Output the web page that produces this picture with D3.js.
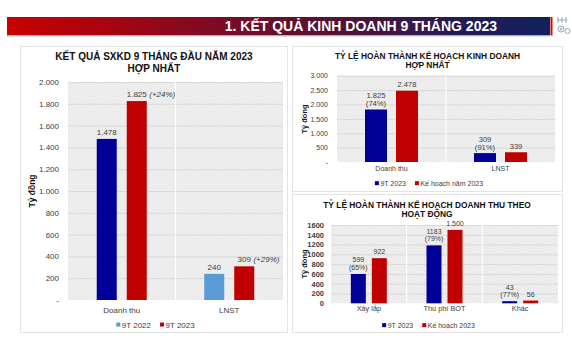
<!DOCTYPE html>
<html>
<head>
<meta charset="utf-8">
<script src="https://cdn.jsdelivr.net/npm/d3@7"></script>
<style>
  html, body { margin: 0; padding: 0; background: #fff; }
  svg { display: block; font-family: "Liberation Sans", Arial, sans-serif; }
</style>
</head>
<body>
<svg id="chart" width="572" height="339"></svg>
<script>
// ---- Data ----
const headerTitle = "1. KẾT QUẢ KINH DOANH 9 THÁNG 2023";

// Consolidated results, first 9 months
const sxkdTitle = ["KẾT QUẢ SXKD 9 THÁNG ĐẦU NĂM 2023", "HỢP NHẤT"];
const sxkdCategories = ["Doanh thu", "LNST"];
const sxkdSeries = ["9T 2022", "9T 2023"];
const sxkd2022 = [1478, 240];
const sxkd2023 = [1825, 309];
const sxkdGrowth = ["(+24%)", "(+29%)"];
const sxkdTicks = [0, 200, 400, 600, 800, 1000, 1200, 1400, 1600, 1800, 2000];

// Plan completion, consolidated
const planTitle = ["TỶ LỆ HOÀN THÀNH KẾ HOẠCH KINH DOANH", "HỢP NHẤT"];
const planCategories = ["Doanh thu", "LNST"];
const planSeries = ["9T 2023", "Kế hoạch năm 2023"];
const plan9T = [1825, 309];
const planYear = [2478, 339];
const planShare = ["(74%)", "(91%)"];
const planTicks = [0, 500, 1000, 1500, 2000, 2500, 3000];

// Revenue plan completion by activity
const segTitle = ["TỶ LỆ HOÀN THÀNH KẾ HOẠCH DOANH THU THEO", "HOẠT ĐỘNG"];
const segCategories = ["Xây lắp", "Thu phí BOT", "Khác"];
const segSeries = ["9T 2023", "Kế hoạch 2023"];
const seg9T = [599, 1183, 43];
const segPlan = [922, 1500, 56];
const segShare = ["(65%)", "(79%)", "(77%)"];
const segTicks = [0, 200, 400, 600, 800, 1000, 1200, 1400, 1600];

const yTitle = "Tỷ đồng";

// ---- Styles / formats ----
const NAVY = "#000099", RED = "#c00000", SKY = "#5b9bd5", TXT = "#404040";
const vi = d3.formatLocale({ decimal: ",", thousands: ".", grouping: [3], currency: ["", ""] });
const fmtDot = vi.format(",d");
const fmtPlain = d3.format("d");
const dashZero = v => (v === 0 ? "-" : fmtDot(v));

const svg = d3.select("#chart");
const defs = svg.append("defs");

// Header gradient
const grad = defs.append("linearGradient").attr("id", "hdr").attr("x1", "0").attr("x2", "1").attr("y1", "0").attr("y2", "0");
[["0%", "#c80000"], ["18%", "#a8040f"], ["40%", "#7a0b26"], ["62%", "#521236"], ["80%", "#2a1a52"], ["100%", "#10215f"]]
  .forEach(([o, c]) => grad.append("stop").attr("offset", o).attr("stop-color", c));

// Fine hatch used behind the plot areas
const pat = defs.append("pattern").attr("id", "hatch").attr("patternUnits", "userSpaceOnUse").attr("width", 3).attr("height", 3);
pat.append("rect").attr("width", 3).attr("height", 3).attr("fill", "#f1f1f1");
pat.append("path").attr("d", "M0,3L3,0M-1,1L1,-1M2,4L4,2").attr("stroke", "#dedede").attr("stroke-width", 0.7);

// ---- Header ----
svg.append("rect").attr("x", 7).attr("y", 17).attr("width", 543).attr("height", 18.5).attr("fill", "url(#hdr)");
svg.append("line").attr("x1", 7).attr("x2", 550).attr("y1", 36).attr("y2", 36).attr("stroke", "#c9c9d2").attr("stroke-width", 1);
svg.append("rect").attr("x", 550.5).attr("y", 17).attr("width", 2).attr("height", 18.5).attr("fill", "#e00000");
svg.append("text").attr("x", 497).attr("y", 31).attr("text-anchor", "end")
  .attr("fill", "#fff").attr("font-weight", "bold").attr("font-size", 14).text(headerTitle);

// Small emblem beside the header
const emb = svg.append("g").attr("fill", "none").attr("stroke", "#8190b3").attr("stroke-width", 0.8);
emb.append("path").attr("d", "M558,17v6M562,17v6M566,17v6M557,20h10");
emb.append("circle").attr("cx", 561).attr("cy", 29).attr("r", 3);
emb.append("circle").attr("cx", 567.5).attr("cy", 31).attr("r", 2.5);
emb.append("circle").attr("cx", 561).attr("cy", 29).attr("r", 1);

// ---- Panels ----
function panel(x, y, w, h) {
  svg.append("rect").attr("x", x + 0.5).attr("y", y + 0.5).attr("width", w).attr("height", h)
    .attr("fill", "#fff").attr("stroke", "#e4e4e4").attr("stroke-width", 1);
}
panel(20, 46, 267, 286);
panel(292, 46, 270, 145);
panel(292, 194, 270, 138);

// ---- Helpers ----
function title(lines, cx, y0, lh, fs) {
  const t = svg.append("text").attr("text-anchor", "middle").attr("font-weight", "bold")
    .attr("font-size", fs).attr("fill", "#111");
  lines.forEach((l, i) => t.append("tspan").attr("x", cx).attr("y", y0 + i * lh).text(l));
}

function axisTitle(x, cy, fs) {
  svg.append("text").attr("transform", `translate(${x},${cy}) rotate(-90)`)
    .attr("text-anchor", "middle").attr("font-weight", "bold").attr("font-size", fs)
    .attr("fill", "#111").text(yTitle);
}

function legend(items, cx, y, fs) {
  const g = svg.append("g").attr("font-size", fs).attr("fill", TXT);
  const parts = items.map(it => {
    const t = g.append("text").attr("y", y).text(it.label);
    return { t, w: t.node().getComputedTextLength(), color: it.color };
  });
  const sq = 4, pad = 1.5, gap = 9;
  const total = d3.sum(parts, p => sq + pad + p.w) + gap * (parts.length - 1);
  let x = cx - total / 2;
  parts.forEach(p => {
    g.append("rect").attr("x", x).attr("y", y - fs * 0.62).attr("width", sq).attr("height", sq).attr("fill", p.color);
    p.t.attr("x", x + sq + pad);
    x += sq + pad + p.w + gap;
  });
}

function barChart(cfg) {
  const g = svg.append("g");
  const x0 = d3.scaleBand().domain(cfg.categories).range([cfg.left, cfg.right]);
  const y = d3.scaleLinear().domain([0, d3.max(cfg.ticks)]).range([cfg.bottom, cfg.top]);
  const band = x0.bandwidth(), bw = cfg.barWidth, gap = cfg.barGap;
  const x1 = d3.scaleBand().domain(d3.range(cfg.series.length))
    .range([(band - 2 * bw - gap) / 2, (band + 2 * bw + gap) / 2])
    .paddingInner(gap / (bw + gap));

  g.append("rect").attr("x", cfg.left).attr("y", cfg.top)
    .attr("width", cfg.right - cfg.left).attr("height", cfg.bottom - cfg.top).attr("fill", "url(#hatch)");

  g.selectAll("line.grid").data(cfg.ticks.filter(t => t > 0)).join("line").attr("class", "grid")
    .attr("x1", cfg.left).attr("x2", cfg.right).attr("y1", d => y(d) + 0.5).attr("y2", d => y(d) + 0.5)
    .attr("stroke", "#d4d4d4").attr("stroke-width", 0.8);

  g.selectAll("line.sep").data(cfg.categories.slice(1)).join("line").attr("class", "sep")
    .attr("x1", d => x0(d)).attr("x2", d => x0(d)).attr("y1", cfg.top).attr("y2", cfg.bottom)
    .attr("stroke", "#fff").attr("stroke-width", 1.2);

  const ya = g.append("g").attr("transform", `translate(${cfg.left},0)`)
    .call(d3.axisLeft(y).tickValues(cfg.ticks).tickFormat(cfg.tickFormat).tickSize(0).tickPadding(cfg.tickPad));
  ya.select(".domain").remove();
  ya.attr("font-family", null).attr("font-size", cfg.tickFont).attr("font-weight", cfg.tickWeight || null);
  ya.selectAll("text").attr("fill", TXT);

  const xa = g.append("g").attr("transform", `translate(0,${cfg.bottom})`)
    .call(d3.axisBottom(x0).tickSize(0).tickPadding(cfg.xPad));
  xa.select(".domain").remove();
  xa.attr("font-family", null).attr("font-size", cfg.xFont);
  xa.selectAll("text").attr("fill", TXT);

  cfg.series.forEach((vals, s) => {
    g.selectAll(null).data(vals.map((v, i) => ({ v, i, cat: cfg.categories[i] }))).join("rect")
      .attr("x", d => x0(d.cat) + x1(s)).attr("y", d => y(d.v))
      .attr("width", x1.bandwidth()).attr("height", d => y(0) - y(d.v))
      .attr("fill", d => cfg.fill(s, d.i));
  });

  const lg = g.append("g").attr("font-size", cfg.labelFont).attr("fill", TXT).attr("text-anchor", "middle");
  const cx = (s, i) => x0(cfg.categories[i]) + x1(s) + x1.bandwidth() / 2;
  return { x0, x1, y, lg, cx };
}

// ---- Chart 1: consolidated results ----
title(sxkdTitle, 154, 60, 12, 10);
axisTitle(34.5, 191, 8.5);
const c1 = barChart({
  categories: sxkdCategories, series: [sxkd2022, sxkd2023], ticks: sxkdTicks,
  left: 68, right: 283, top: 82, bottom: 300, barWidth: 20, barGap: 10,
  tickFormat: dashZero, tickFont: 8, tickPad: 9, xFont: 8, xPad: 7, labelFont: 8,
  fill: (s, i) => (s === 1 ? RED : i === 0 ? NAVY : SKY)
});
sxkd2022.forEach((v, i) => {
  c1.lg.append("text").attr("x", c1.cx(0, i)).attr("y", c1.y(v) - 4).text(fmtDot(v));
});
sxkd2023.forEach((v, i) => {
  const t = c1.lg.append("text").attr("x", c1.cx(1, i)).attr("y", c1.y(v) - 4).text(fmtDot(v));
  const w = t.node().getComputedTextLength();
  c1.lg.append("text").attr("text-anchor", "start").attr("font-style", "italic")
    .attr("x", c1.cx(1, i) + w / 2 + 2.5).attr("y", c1.y(v) - 4).text(sxkdGrowth[i]);
});
legend([{ label: sxkdSeries[0], color: SKY }, { label: sxkdSeries[1], color: RED }], 155.5, 327.5, 8);

// ---- Chart 2: business plan completion ----
title(planTitle, 427.5, 58.5, 9, 8.4);
axisTitle(306.5, 119, 7.5);
const c2 = barChart({
  categories: planCategories, series: [plan9T, planYear], ticks: planTicks,
  left: 337, right: 555, top: 75.7, bottom: 162, barWidth: 22, barGap: 9,
  tickFormat: dashZero, tickFont: 7, tickPad: 9, xFont: 7, xPad: 4, labelFont: 7.6,
  fill: s => (s === 0 ? NAVY : RED)
});
plan9T.forEach((v, i) => {
  c2.lg.append("text").attr("x", c2.cx(0, i)).attr("y", c2.y(v) - 3.5).text(planShare[i]);
  c2.lg.append("text").attr("x", c2.cx(0, i)).attr("y", c2.y(v) - 11.5).text(fmtDot(v));
});
planYear.forEach((v, i) => {
  c2.lg.append("text").attr("x", c2.cx(1, i)).attr("y", c2.y(v) - 3.5).text(fmtDot(v));
});
legend([{ label: planSeries[0], color: NAVY }, { label: planSeries[1], color: RED }], 429, 185.5, 7);

// ---- Chart 3: revenue plan completion by activity ----
title(segTitle, 427, 207.5, 9, 8.4);
axisTitle(306.5, 264, 7.5);
const c3 = barChart({
  categories: segCategories, series: [seg9T, segPlan], ticks: segTicks,
  left: 331, right: 558, top: 225, bottom: 303.3, barWidth: 15, barGap: 6,
  tickFormat: fmtPlain, tickFont: 7.5, tickWeight: "bold", tickPad: 7, xFont: 7.3, xPad: 3, labelFont: 7,
  fill: s => (s === 0 ? NAVY : RED)
});
seg9T.forEach((v, i) => {
  c3.lg.append("text").attr("x", c3.cx(0, i)).attr("y", c3.y(v) - 4).text(segShare[i]);
  c3.lg.append("text").attr("x", c3.cx(0, i)).attr("y", c3.y(v) - 11.5).text(fmtPlain(v));
});
segPlan.forEach((v, i) => {
  c3.lg.append("text").attr("x", c3.cx(1, i)).attr("y", c3.y(v) - 4).text(fmtDot(v));
});
legend([{ label: segSeries[0], color: NAVY }, { label: segSeries[1], color: RED }], 428.5, 327.5, 7);
</script>
</body>
</html>
